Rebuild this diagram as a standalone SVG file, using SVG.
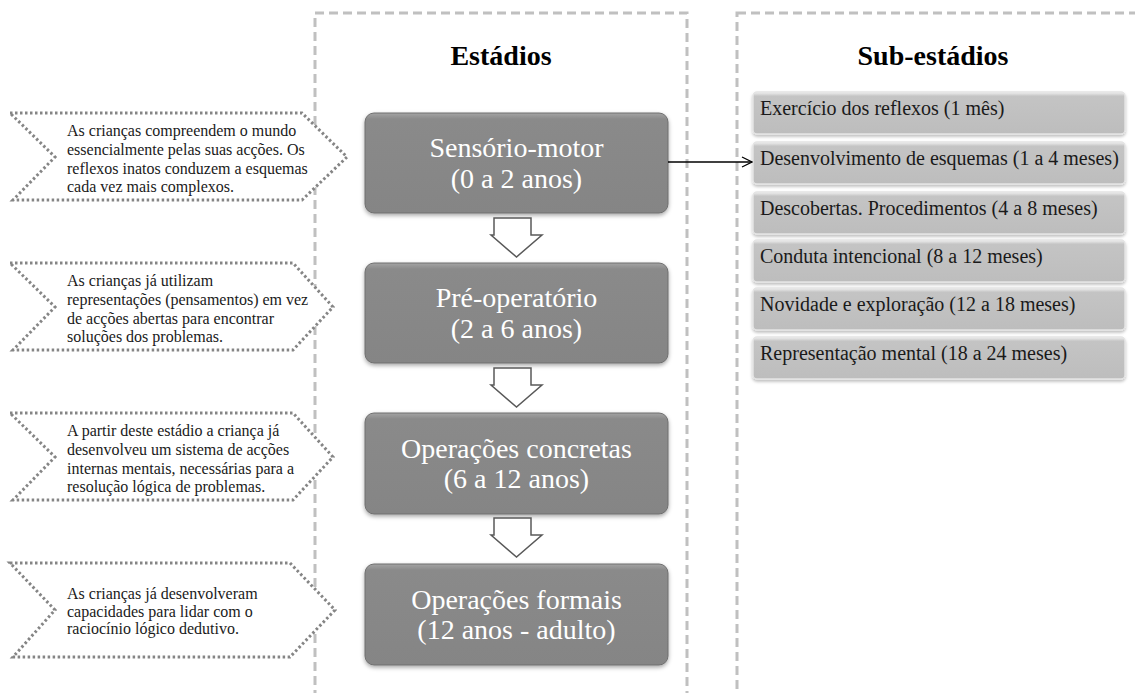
<svg xmlns="http://www.w3.org/2000/svg" width="1135" height="693" viewBox="0 0 1135 693">
<style>
.cont{fill:none;stroke:#c0c0c0;stroke-width:3;stroke-dasharray:9 5}
.title{font-family:"Liberation Serif",serif;font-weight:bold;font-size:28px;fill:#000;text-anchor:middle}
.stage{fill:url(#gStage);stroke:#6e6e6e;stroke-width:1;filter:url(#sh)}
.stext{font-family:"Liberation Serif",serif;font-size:28px;fill:#fff;text-anchor:middle}
.sub{fill:url(#gSub);stroke:#e4e4e4;stroke-width:1.5;filter:url(#sh2)}
.subt{font-family:"Liberation Serif",serif;font-size:20px;fill:#1a1a1a}
.call{fill:#fff;stroke:#858585;stroke-width:3;stroke-dasharray:2.5 2.5}
.ct{font-family:"Liberation Serif",serif;font-size:16px;fill:#1a1a1a}
.down{fill:#fff;stroke:#595959;stroke-width:1.5;stroke-linejoin:miter}
</style>
<defs>
<linearGradient id="gStage" x1="0" y1="0" x2="0" y2="1">
<stop offset="0" stop-color="#a3a3a3"/>
<stop offset="0.06" stop-color="#8a8a8a"/>
<stop offset="1" stop-color="#858585"/>
</linearGradient>
<linearGradient id="gSub" x1="0" y1="0" x2="0" y2="1">
<stop offset="0" stop-color="#f2f2f2"/>
<stop offset="0.1" stop-color="#c4c4c4"/>
<stop offset="1" stop-color="#bdbdbd"/>
</linearGradient>
<filter id="sh" x="-10%" y="-10%" width="120%" height="130%">
<feDropShadow dx="0" dy="2" stdDeviation="2" flood-color="#000" flood-opacity="0.35"/>
</filter>
<filter id="sh2" x="-10%" y="-20%" width="120%" height="150%">
<feDropShadow dx="0" dy="2" stdDeviation="1.5" flood-color="#000" flood-opacity="0.25"/>
</filter>
<marker id="open" viewBox="0 0 12 12" refX="11" refY="6" markerWidth="12" markerHeight="12" markerUnits="userSpaceOnUse" orient="auto">
<path d="M1,1 L11,6 L1,11" fill="none" stroke="#000" stroke-width="1.3"/>
</marker>
</defs>

<g id="containers">
<rect class="cont" x="315" y="13" width="372" height="720"/>
<rect class="cont" x="737" y="13" width="430" height="720"/>
<text class="title" x="501" y="65">Estádios</text>
<text class="title" x="933" y="65">Sub-estádios</text>
</g>

<g id="callout1">
<path class="call" d="M10,113 H302 L347,157 L302,200 H13 L55,157 Z"/>
<text class="ct"><tspan x="67" y="136">As crianças compreendem o mundo</tspan><tspan x="67" y="155">essencialmente  pelas suas acções. Os</tspan><tspan x="67" y="174">reflexos inatos conduzem a esquemas</tspan><tspan x="67" y="192">cada vez mais complexos.</tspan></text>
</g>
<g id="callout2">
<path class="call" d="M10,263 H293 L333,307 L293,350 H13 L55,307 Z"/>
<text class="ct"><tspan x="67" y="286">As crianças já utilizam</tspan><tspan x="67" y="305">representações (pensamentos) em vez</tspan><tspan x="67" y="324">de acções abertas para encontrar</tspan><tspan x="67" y="342">soluções dos problemas.</tspan></text>
</g>
<g id="callout3">
<path class="call" d="M10,413 H293 L333,457 L293,500 H13 L55,457 Z"/>
<text class="ct"><tspan x="67" y="436">A partir deste estádio a criança já</tspan><tspan x="67" y="455">desenvolveu um sistema de acções</tspan><tspan x="67" y="474">internas mentais, necessárias para a</tspan><tspan x="67" y="492">resolução lógica de problemas.</tspan></text>
</g>
<g id="callout4">
<path class="call" d="M10,563 H290 L335,610 L290,657 H13 L55,610 Z"/>
<text class="ct"><tspan x="67" y="599">As crianças já desenvolveram</tspan><tspan x="67" y="617">capacidades para lidar com o</tspan><tspan x="67" y="634">raciocínio lógico dedutivo.</tspan></text>
</g>

<g id="stage1">
<rect class="stage" x="365" y="113" width="303" height="100" rx="9"/>
<text class="stext" x="516.5" y="157">Sensório-motor</text>
<text class="stext" x="516.5" y="188">(0 a 2 anos)</text>
</g>
<g id="stage2">
<rect class="stage" x="365" y="263" width="303" height="100" rx="9"/>
<text class="stext" x="516.5" y="307">Pré-operatório</text>
<text class="stext" x="516.5" y="338">(2 a 6 anos)</text>
</g>
<g id="stage3">
<rect class="stage" x="365" y="413" width="303" height="101" rx="9"/>
<text class="stext" x="516.5" y="458">Operações  concretas</text>
<text class="stext" x="516.5" y="488">(6 a 12 anos)</text>
</g>
<g id="stage4">
<rect class="stage" x="365" y="564" width="303" height="101" rx="9"/>
<text class="stext" x="516.5" y="609">Operações  formais</text>
<text class="stext" x="516.5" y="639">(12 anos - adulto)</text>
</g>

<g id="sub1"><rect class="sub" x="753" y="92" width="372" height="42" rx="4"/><text class="subt" x="760" y="115">Exercício dos reflexos (1 mês)</text></g>
<g id="sub2"><rect class="sub" x="753" y="142" width="372" height="42" rx="4"/><text class="subt" x="760" y="165">Desenvolvimento de esquemas (1 a 4 meses)</text></g>
<g id="sub3"><rect class="sub" x="753" y="192" width="372" height="42" rx="4"/><text class="subt" x="760" y="215">Descobertas. Procedimentos (4 a 8 meses)</text></g>
<g id="sub4"><rect class="sub" x="753" y="240" width="372" height="42" rx="4"/><text class="subt" x="760" y="263">Conduta intencional (8 a 12 meses)</text></g>
<g id="sub5"><rect class="sub" x="753" y="288" width="372" height="42" rx="4"/><text class="subt" x="760" y="311">Novidade e exploração (12 a 18 meses)</text></g>
<g id="sub6"><rect class="sub" x="753" y="337" width="372" height="42" rx="4"/><text class="subt" x="760" y="360">Representação mental (18 a 24 meses)</text></g>

<g id="connectors">
<line x1="668" y1="162" x2="752" y2="162" stroke="#000" stroke-width="1.5" marker-end="url(#open)"/>
<path class="down" d="M494,218 H531 V235 H542 L516.5,257 L491,235 H494 Z"/>
<path class="down" d="M494,368 H531 V385 H542 L516.5,407 L491,385 H494 Z"/>
<path class="down" d="M494,518 H531 V535 H542 L516.5,557 L491,535 H494 Z"/>
</g>
</svg>
